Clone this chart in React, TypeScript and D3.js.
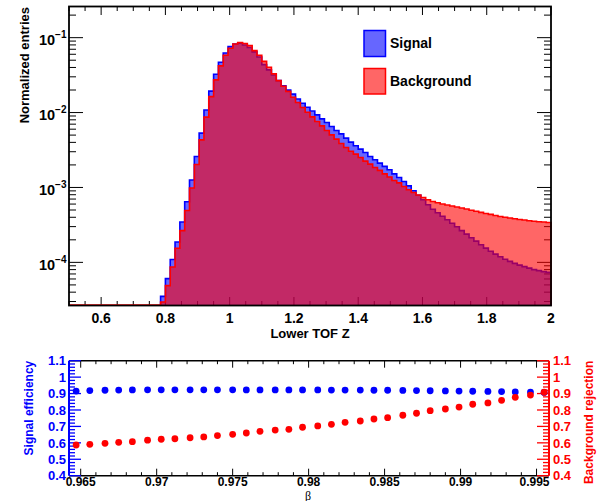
import React from 'react';
import * as d3 from 'd3';

const W = 607, H = 501;

// ---- top histogram data ----
const histXMin = 0.5, histXMax = 2.0;
const firstBinLow = 0.785;
const binWidth = 0.015;
const signal = [
  3.52e-5, 6.07e-5, 1.09e-4, 1.87e-4, 3.46e-4, 6.44e-4, 1.26e-3, 2.59e-3, 5.31e-3, 1.08e-2,
  1.93e-2, 3.25e-2, 4.70e-2, 6.25e-2, 7.59e-2, 8.24e-2, 8.42e-2, 7.99e-2, 7.40e-2, 6.45e-2,
  5.53e-2, 4.37e-2, 3.71e-2, 3.18e-2, 2.67e-2, 2.27e-2, 1.99e-2, 1.76e-2, 1.52e-2, 1.33e-2,
  1.18e-2, 1.05e-2, 9.31e-3, 8.24e-3, 7.36e-3, 6.50e-3, 5.75e-3, 5.20e-3, 4.56e-3, 4.03e-3,
  3.60e-3, 3.25e-3, 2.93e-3, 2.59e-3, 2.34e-3, 2.11e-3, 1.91e-3, 1.72e-3, 1.52e-3, 1.36e-3,
  1.20e-3, 1.05e-3, 9.03e-4, 7.87e-4, 6.85e-4, 5.88e-4, 5.12e-4, 4.60e-4, 4.13e-4, 3.71e-4,
  3.33e-4, 2.99e-4, 2.65e-4, 2.38e-4, 2.13e-4, 1.92e-4, 1.72e-4, 1.55e-4, 1.41e-4, 1.29e-4,
  1.19e-4, 1.10e-4, 1.03e-4, 9.70e-5, 9.18e-5, 8.77e-5, 8.37e-5, 8.00e-5, 7.75e-5, 7.52e-5, 7.36e-5,
];
const background = [
  2.96e-5, 4.89e-5, 8.69e-5, 1.54e-4, 2.65e-4, 4.93e-4, 9.82e-4, 2.03e-3, 4.32e-3, 8.69e-3,
  1.63e-2, 2.73e-2, 4.20e-2, 5.82e-2, 7.22e-2, 8.24e-2, 8.63e-2, 8.37e-2, 7.82e-2, 6.71e-2,
  5.82e-2, 4.82e-2, 4.03e-2, 3.28e-2, 2.67e-2, 2.24e-2, 1.92e-2, 1.60e-2, 1.36e-2, 1.17e-2,
  1.01e-2, 8.77e-3, 7.59e-3, 6.65e-3, 5.75e-3, 5.04e-3, 4.42e-3, 3.86e-3, 3.41e-3, 3.04e-3,
  2.79e-3, 2.51e-3, 2.25e-3, 2.05e-3, 1.85e-3, 1.69e-3, 1.52e-3, 1.38e-3, 1.24e-3, 1.15e-3,
  1.03e-3, 9.31e-4, 8.57e-4, 7.92e-4, 7.36e-4, 6.85e-4, 6.50e-4, 6.25e-4, 6.01e-4, 5.82e-4,
  5.65e-4, 5.48e-4, 5.31e-4, 5.15e-4, 4.97e-4, 4.82e-4, 4.65e-4, 4.50e-4, 4.37e-4, 4.23e-4,
  4.10e-4, 4.01e-4, 3.91e-4, 3.83e-4, 3.74e-4, 3.67e-4, 3.60e-4, 3.54e-4, 3.49e-4, 3.46e-4, 3.41e-4,
];
const histYMin = 2.655e-5, histYMax = 0.2606;
const zTickLabels = [0.6, 0.8, 1.0, 1.2, 1.4, 1.6, 1.8, 2.0];
const decadeExponents = [-4, -3, -2, -1];
const legendLabels = ['Signal', 'Background'];

// ---- bottom efficiency data ----
const betaMin = 0.96423, betaMax = 0.99582;
const beta = [
  0.9647, 0.9656, 0.9666, 0.9675, 0.9684, 0.9694, 0.9703, 0.9712, 0.9722, 0.9731,
  0.9740, 0.9750, 0.9759, 0.9768, 0.9778, 0.9787, 0.9796, 0.9806, 0.9815, 0.9824,
  0.9834, 0.9843, 0.9852, 0.9862, 0.9871, 0.9880, 0.9890, 0.9899, 0.9908, 0.9918,
  0.9927, 0.9936, 0.9946, 0.9955,
];
const signalEfficiency = [
  0.915, 0.918, 0.920, 0.921, 0.922, 0.923, 0.923, 0.923, 0.923, 0.923,
  0.923, 0.923, 0.922, 0.922, 0.922, 0.922, 0.922, 0.922, 0.921, 0.921,
  0.921, 0.920, 0.920, 0.919, 0.918, 0.917, 0.916, 0.915, 0.914, 0.913,
  0.912, 0.910, 0.909, 0.907,
];
const backgroundRejection = [
  0.587, 0.591, 0.597, 0.603, 0.607, 0.616, 0.622, 0.625, 0.631, 0.636,
  0.644, 0.652, 0.660, 0.670, 0.678, 0.682, 0.695, 0.703, 0.713, 0.725,
  0.733, 0.745, 0.753, 0.768, 0.780, 0.796, 0.806, 0.818, 0.835, 0.843,
  0.859, 0.877, 0.891, 0.908,
];
const betaTickLabels = ['0.965', '0.97', '0.975', '0.98', '0.985', '0.99', '0.995'];
const effTickLabels = ['0.4', '0.5', '0.6', '0.7', '0.8', '0.9', '1', '1.1'];

const FONT = "'Liberation Sans', Arial, Helvetica, sans-serif";

function histPath(values: number[], x: any, y: any, bottom: number, closed: boolean) {
  const pts: [number, number][] = [];
  pts.push([x(firstBinLow), bottom]);
  values.forEach((v, i) => {
    const lo = firstBinLow + i * binWidth;
    const hi = lo + binWidth;
    const yy = Math.min(bottom, y(Math.max(v, histYMin)));
    pts.push([x(lo), yy]);
    pts.push([x(hi), yy]);
  });
  pts.push([x(histXMax), bottom]);
  const p = d3.line()(pts) as string;
  return closed ? p + 'Z' : p;
}

export default function App() {
  // ---- top frame ----
  const L = 69, R = 551, T = 6.5, B = 305.5;
  const x = d3.scaleLinear().domain([histXMin, histXMax]).range([L, R]);
  const y = d3.scaleLog().domain([histYMin, histYMax]).range([B, T]).clamp(true);

  const xMinor = d3.range(0.5, 2.0001, 0.05).map((v) => +v.toFixed(3));
  const yMinor: number[] = [];
  for (let e = -5; e <= 0; e++) {
    for (let m = 1; m <= 9; m++) {
      const v = m * Math.pow(10, e);
      if (v >= histYMin && v <= histYMax) yMinor.push(v);
    }
  }

  // ---- bottom frame ----
  const bL = 69, bR = 549, bT = 360.7, bB = 475.7;
  const bx = d3.scaleLinear().domain([betaMin, betaMax]).range([bL, bR]);
  const by = d3.scaleLinear().domain([0.4, 1.1]).range([bB, bT]);
  const betaMinor = d3.range(0.965, 0.9955, 0.001).map((v) => +v.toFixed(4));
  const effMinor = d3.range(0.4, 1.1001, 0.02).map((v) => +v.toFixed(3));

  const sigPathFill = histPath(signal, x, y, B, true);
  const bkgPathFill = histPath(background, x, y, B, true);
  const sigLine = histPath(signal, x, y, B, false);
  const bkgLine = histPath(background, x, y, B, false);

  return (
    <svg width={W} height={H} style={{ position: 'absolute', left: 0, top: 0, background: '#fff' }}
      fontFamily={FONT}>
      <rect x={0} y={0} width={W} height={H} fill="#fff" />
      {/* ===== TOP PLOT ===== */}
      <g stroke="#000" strokeWidth={1}>
        {xMinor.map((v, i) => {
          const major = Math.abs(v * 5 - Math.round(v * 5)) < 1e-6;
          const len = major ? 8.5 : 4.5;
          return (
            <g key={'xt' + i}>
              <line x1={x(v)} x2={x(v)} y1={B} y2={B - len} />
              <line x1={x(v)} x2={x(v)} y1={T} y2={T + len} />
            </g>
          );
        })}
        {yMinor.map((v, i) => {
          const major = Math.abs(Math.log10(v) - Math.round(Math.log10(v))) < 1e-6;
          const len = major ? 14 : 7;
          return (
            <g key={'yt' + i}>
              <line x1={L} x2={L + len} y1={y(v)} y2={y(v)} />
              <line x1={R} x2={R - len} y1={y(v)} y2={y(v)} />
            </g>
          );
        })}
      </g>

      {/* histograms */}
      <path d={sigPathFill} fill="#0000ff" fillOpacity={0.6} stroke="none" />
      <path d={sigLine} fill="none" stroke="#0000ff" strokeWidth={1.6} />
      <path d={bkgPathFill} fill="#ff0000" fillOpacity={0.6} stroke="none" />
      <path d={bkgLine} fill="none" stroke="#ff0000" strokeWidth={1.6} />
      <line x1={x(histXMin)} x2={x(firstBinLow)} y1={B - 0.5} y2={B - 0.5} stroke="#ff0000" strokeWidth={1.6} />

      <rect x={L} y={T} width={R - L} height={B - T} fill="none" stroke="#000" strokeWidth={1.8} />

      {/* x tick labels */}
      <g fontSize={14} fontWeight="bold" textAnchor="middle" fill="#000">
        {zTickLabels.map((v) => (
          <text key={'xl' + v} x={x(v)} y={323}>{String(v === 1 ? '1' : v === 2 ? '2' : v)}</text>
        ))}
      </g>
      <text x={(L + R) / 2} y={338} fontSize={13} fontWeight="bold" textAnchor="middle">Lower TOF Z</text>

      {/* y tick labels */}
      <g fontWeight="bold" fill="#000">
        {decadeExponents.map((e) => (
          <text key={'yl' + e} x={66.5} y={y(Math.pow(10, e)) + 7.3} textAnchor="end" fontSize={14.5}>
            10<tspan fontSize={10} dy={-6.7}>{'\u2212' + Math.abs(e)}</tspan>
          </text>
        ))}
      </g>
      <text transform={`translate(29,${T + 0.5}) rotate(-90)`} textAnchor="end" fontSize={13} fontWeight="bold">
        Normalized entries
      </text>

      {/* legend */}
      <rect x={364} y={30.5} width={21.5} height={26} fill="#0000ff" fillOpacity={0.6} stroke="#0000ff" strokeWidth={1.5} />
      <rect x={364} y={68.5} width={21.5} height={25.5} fill="#ff0000" fillOpacity={0.6} stroke="#ff0000" strokeWidth={1.5} />
      <text x={390} y={48.3} fontSize={14} fontWeight="bold">{legendLabels[0]}</text>
      <text x={390} y={85.5} fontSize={14} fontWeight="bold">{legendLabels[1]}</text>

      {/* ===== BOTTOM PLOT ===== */}
      <g stroke="#000" strokeWidth={1}>
        {betaMinor.map((v, i) => {
          const major = Math.abs(v * 200 - Math.round(v * 200)) < 1e-6;
          const len = major ? 7 : 3.5;
          return (
            <g key={'bt' + i}>
              <line x1={bx(v)} x2={bx(v)} y1={bB} y2={bB - len} />
              <line x1={bx(v)} x2={bx(v)} y1={bT} y2={bT + len} />
            </g>
          );
        })}
      </g>
      <line x1={bL} x2={bR} y1={bT} y2={bT} stroke="#000" strokeWidth={1.5} />
      <line x1={bL} x2={bR} y1={bB} y2={bB} stroke="#000" strokeWidth={1.5} />

      {/* left blue axis */}
      <g stroke="#0000ff" strokeWidth={1.3}>
        <line x1={bL} x2={bL} y1={bT} y2={bB} strokeWidth={2} />
        {effMinor.map((v, i) => {
          const major = Math.abs(v * 10 - Math.round(v * 10)) < 1e-6;
          const len = major ? 12 : 6;
          return <line key={'el' + i} x1={bL} x2={bL + len} y1={by(v)} y2={by(v)} />;
        })}
      </g>
      {/* right red axis */}
      <g stroke="#ff0000" strokeWidth={1.3}>
        <line x1={bR} x2={bR} y1={bT} y2={bB} strokeWidth={2} />
        {effMinor.map((v, i) => {
          const major = Math.abs(v * 10 - Math.round(v * 10)) < 1e-6;
          const len = major ? 12 : 6;
          return <line key={'er' + i} x1={bR} x2={bR - len} y1={by(v)} y2={by(v)} />;
        })}
      </g>

      {/* points */}
      {beta.map((b, i) => (
        <circle key={'sp' + i} cx={bx(b)} cy={by(signalEfficiency[i])} r={3.4} fill="#0000ff" />
      ))}
      {beta.map((b, i) => (
        <circle key={'bp' + i} cx={bx(b)} cy={by(backgroundRejection[i])} r={3.4} fill="#ff0000" />
      ))}

      {/* labels */}
      <g fontSize={13} fontWeight="bold" fill="#0000ff" textAnchor="end">
        {effTickLabels.map((t) => (
          <text key={'lt' + t} x={66} y={by(+t) + 4.7}>{t}</text>
        ))}
      </g>
      <g fontSize={13} fontWeight="bold" fill="#ff0000" textAnchor="start">
        {effTickLabels.map((t) => (
          <text key={'rt' + t} x={553} y={by(+t) + 4.7}>{t}</text>
        ))}
      </g>
      <g fontSize={12} fontWeight="bold" fill="#000" textAnchor="middle">
        {betaTickLabels.map((t, i) => (
          <text key={'bl' + t} x={i === betaTickLabels.length - 1 ? bx(+t) - 2 : bx(+t)} y={486}>{t}</text>
        ))}
      </g>
      <text x={(bL + bR) / 2 - 1} y={499.5} fontSize={12} textAnchor="middle" fontFamily="'Liberation Serif', 'DejaVu Serif', serif">β</text>
      <text transform={`translate(33,${bT}) rotate(-90)`} textAnchor="end" fontSize={12} fontWeight="bold" fill="#0000ff">
        Signal efficiency
      </text>
      <text transform={`translate(592.5,${bT}) rotate(-90)`} textAnchor="end" fontSize={12} fontWeight="bold" fill="#ff0000">
        Background rejection
      </text>
    </svg>
  );
}
